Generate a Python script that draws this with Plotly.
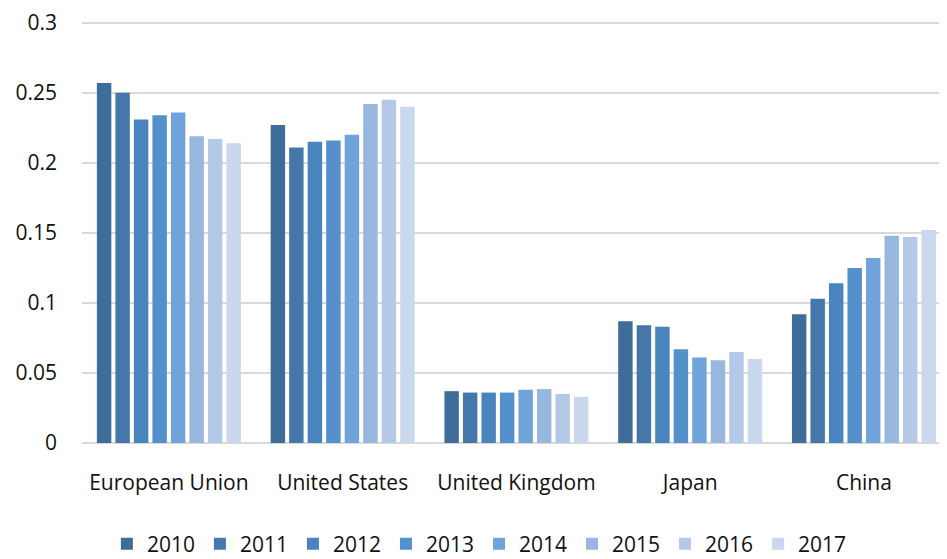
import plotly.graph_objects as go

regions = ["European Union", "United States", "United Kingdom", "Japan", "China"]
years = ["2010", "2011", "2012", "2013", "2014", "2015", "2016", "2017"]

v2010 = [0.257, 0.227, 0.037, 0.087, 0.092]
v2011 = [0.250, 0.211, 0.036, 0.084, 0.103]
v2012 = [0.231, 0.215, 0.036, 0.083, 0.114]
v2013 = [0.234, 0.216, 0.036, 0.067, 0.125]
v2014 = [0.236, 0.220, 0.038, 0.061, 0.132]
v2015 = [0.219, 0.242, 0.0385, 0.059, 0.148]
v2016 = [0.217, 0.245, 0.035, 0.065, 0.147]
v2017 = [0.214, 0.240, 0.033, 0.060, 0.152]

series = [v2010, v2011, v2012, v2013, v2014, v2015, v2016, v2017]
colors = ["#3F6D99", "#4577AB", "#4A84BE", "#5491CC", "#70A3D9",
          "#97B7DE", "#B3C9E7", "#C9D8ED"]

fig = go.Figure()
for year, vals, col in zip(years, series, colors):
    fig.add_trace(go.Bar(x=regions, y=vals, name=year, marker_color=col,
                         marker_line_width=0))

# page body has an 8px margin, so the figure is sized to fit the window
font = dict(family="Open Sans, Liberation Sans, sans-serif", size=21, color="#111")
fig.update_layout(
    width=939, height=551,
    margin=dict(l=74, r=0, t=12, b=116),
    paper_bgcolor="white", plot_bgcolor="white",
    font=font,
    barmode="group", bargap=0.148, bargroupgap=0.22,
    showlegend=True,
    legend=dict(orientation="h", xref="container", yref="container",
                x=0.502, xanchor="center", y=0.027, yanchor="middle",
                font=dict(size=21), itemwidth=30, traceorder="normal"),
    xaxis=dict(range=[-0.5, 4.478], showline=False, ticks="",
               ticklabelstandoff=25, tickfont=dict(size=21)),
    yaxis=dict(range=[0, 0.302], dtick=0.05, showgrid=True, gridcolor="#D9D9D9",
               gridwidth=1.5, zeroline=True, zerolinecolor="#D9D9D9",
               zerolinewidth=1.5, ticks="", ticklabelstandoff=24,
               tickfont=dict(size=21)),
)

fig.write_html("out.html")
